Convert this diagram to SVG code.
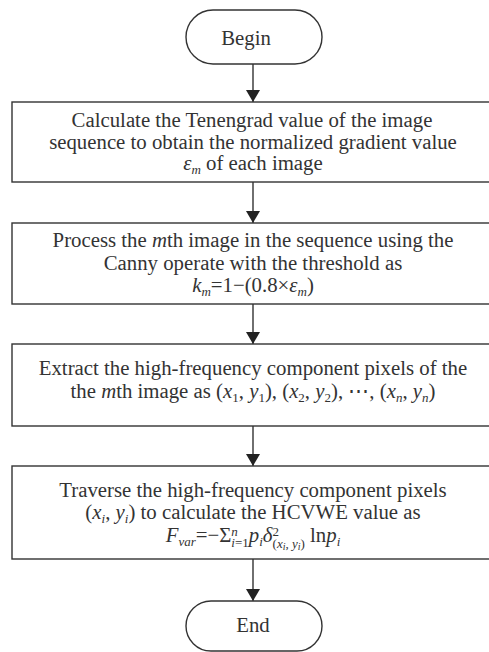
<svg xmlns="http://www.w3.org/2000/svg" width="489" height="652" viewBox="0 0 489 652">
<style>
.b{fill:#fff;stroke:#333;stroke-width:1.4}
.c{stroke:#333;stroke-width:1.4;fill:none}
.t{font-family:"Liberation Serif","Times New Roman",serif;font-size:20.8px;fill:#333;text-anchor:middle}
.i{font-style:italic}
.s{font-size:13px}
.ss{font-size:10px}
</style>
<defs>
<marker id="ah" markerWidth="12" markerHeight="14" refX="12" refY="7" orient="auto" markerUnits="userSpaceOnUse">
<path d="M0,0 L12,7 L0,14 Z" fill="#222"/>
</marker>
</defs>
<rect width="489" height="652" fill="#fff"/>
<g id="connectors">
<line class="c" x1="253" y1="64" x2="253" y2="102" marker-end="url(#ah)"/>
<line class="c" x1="253" y1="182" x2="253" y2="223" marker-end="url(#ah)"/>
<line class="c" x1="253" y1="304" x2="253" y2="344" marker-end="url(#ah)"/>
<line class="c" x1="253" y1="426" x2="253" y2="466" marker-end="url(#ah)"/>
<line class="c" x1="253" y1="559" x2="253" y2="601" marker-end="url(#ah)"/>
</g>
<g id="begin">
<rect class="b" x="186" y="10" width="136" height="54" rx="27"/>
<text class="t" x="246" y="45">Begin</text>
</g>
<g id="step1">
<rect class="b" x="12" y="102" width="482" height="80"/>
<text class="t" x="252" y="127">Calculate the Tenengrad value of the image</text>
<text class="t" x="253" y="149">sequence to obtain the normalized gradient value</text>
<text class="t" x="253" y="170"><tspan class="i">ε</tspan><tspan class="s i" dy="4">m</tspan><tspan dy="-4"> of each image</tspan></text>
</g>
<g id="step2">
<rect class="b" x="12" y="223" width="482" height="81"/>
<text class="t" x="253" y="247">Process the <tspan class="i">m</tspan>th image in the sequence using the</text>
<text class="t" x="253" y="270">Canny operate with the threshold as</text>
<text class="t" x="253" y="292"><tspan class="i">k</tspan><tspan class="s i" dy="4">m</tspan><tspan dy="-4">=1−(0.8×</tspan><tspan class="i">ε</tspan><tspan class="s i" dy="4">m</tspan><tspan dy="-4">)</tspan></text>
</g>
<g id="step3">
<rect class="b" x="12" y="344" width="482" height="82"/>
<text class="t" x="253" y="375">Extract the high-frequency component pixels of the</text>
<text class="t" x="253" y="398">the <tspan class="i">m</tspan>th image as (<tspan class="i">x</tspan><tspan class="s" dy="4">1</tspan><tspan dy="-4">, </tspan><tspan class="i">y</tspan><tspan class="s" dy="4">1</tspan><tspan dy="-4">), (</tspan><tspan class="i">x</tspan><tspan class="s" dy="4">2</tspan><tspan dy="-4">, </tspan><tspan class="i">y</tspan><tspan class="s" dy="4">2</tspan><tspan dy="-4">), ⋯, (</tspan><tspan class="i">x</tspan><tspan class="s i" dy="4">n</tspan><tspan dy="-4">, </tspan><tspan class="i">y</tspan><tspan class="s i" dy="4">n</tspan><tspan dy="-4">)</tspan></text>
</g>
<g id="step4">
<rect class="b" x="12" y="466" width="482" height="93"/>
<text class="t" x="253" y="497">Traverse the high-frequency component pixels</text>
<text class="t" x="253" y="519">(<tspan class="i">x</tspan><tspan class="s i" dy="4">i</tspan><tspan dy="-4">, </tspan><tspan class="i">y</tspan><tspan class="s i" dy="4">i</tspan><tspan dy="-4">) to calculate the HCVWE value as</tspan></text>
<text class="t" x="253" y="542"><tspan class="i">F</tspan><tspan class="s i" dy="4">var</tspan><tspan dy="-4">=−Σ</tspan><tspan class="s i" dy="-6">n</tspan><tspan class="s" dx="-6.5" dy="11"><tspan class="i">i</tspan>=1</tspan><tspan class="i" dy="-5">p</tspan><tspan class="s i" dy="4">i</tspan><tspan class="i" dy="-4">δ</tspan><tspan class="s" dy="-6">2</tspan><tspan class="s" dx="-6.5" dy="12">(<tspan class="i">x</tspan></tspan><tspan class="ss i" dy="2">i</tspan><tspan class="s" dy="-2">, <tspan class="i">y</tspan></tspan><tspan class="ss i" dy="2">i</tspan><tspan class="s" dy="-2">)</tspan><tspan dy="-6"> ln</tspan><tspan class="i">p</tspan><tspan class="s i" dy="4">i</tspan></text>
</g>
<g id="end">
<rect class="b" x="186" y="601" width="136" height="50" rx="25"/>
<text class="t" x="253" y="632">End</text>
</g>
</svg>
